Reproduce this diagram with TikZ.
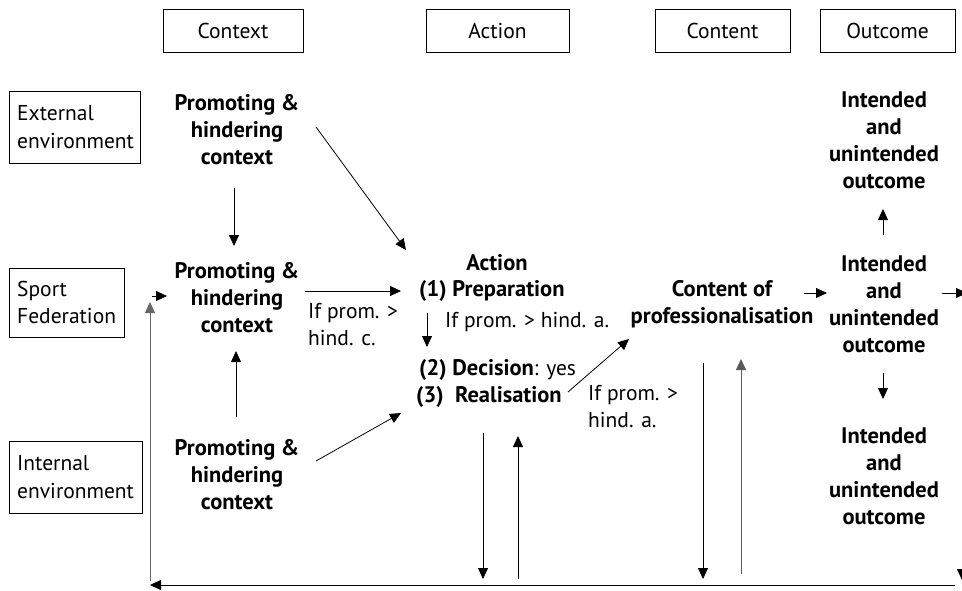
\documentclass[tikz,border=0pt]{standalone}
\usepackage{fontspec}
\setmainfont{PT Sans}
\usetikzlibrary{arrows.meta}
\begin{document}
\begin{tikzpicture}[x=1pt,y=-1pt,
  hdr/.style={draw,line width=0.9pt,minimum width=140pt,minimum height=43pt,inner sep=0pt,font=\fontsize{21.5}{26}\selectfont},
  rt/.style={align=left,inner sep=0pt,font=\fontsize{21.5}{27.5}\selectfont},
  bt/.style={align=center,inner sep=0pt,font=\fontsize{22.5}{27}\selectfont\bfseries},
  arr/.style={-{Triangle[length=11pt,width=10pt]},line width=0.8pt},
  garr/.style={arr,draw=black!60,line width=1pt}]
\useasboundingbox (0,0) rectangle (962,590);
% header boxes
\node[hdr] (hctx) at (233,30.5) {Context};
\node[hdr,minimum width=143pt] (hact) at (497.5,30.5) {Action};
\node[hdr,minimum width=135pt] (hcon) at (722.5,31) {Content};
\node[hdr,minimum width=135pt] (hout) at (887.5,31) {Outcome};
% row boxes
\draw[line width=0.9pt] (9,91) rectangle (140,163);
\node[rt,anchor=west] (ext) at (17,127) {External\\environment};
\draw[line width=0.9pt] (9,268) rectangle (124,337);
\node[rt,anchor=west] (spf) at (17,302.5) {Sport\\Federation};
\draw[line width=0.9pt] (9,441) rectangle (142,513);
\node[rt,anchor=west] (int) at (17,477) {Internal\\environment};
% context column
\node[bt] (c1) at (237,130) {Promoting \&\\hindering\\context};
\node[bt] (c2) at (237,298) {Promoting \&\\hindering\\context};
\node[bt] (c3) at (237,475) {Promoting \&\\hindering\\context};
% action column
\node[bt] (a0) at (497,263) {Action};
\node[bt,anchor=west] (a1) at (419,291) {(1) Preparation};
\node[rt,anchor=west] (a1l) at (445,322) {If prom. > hind. a.};
\node[rt,anchor=west] (a2) at (419,370) {\textbf{\fontsize{22.5}{27}\selectfont(2) Decision}: yes};
\node[bt,anchor=west] (a3) at (416,397) {(3)\ \ Realisation};
\node[rt,anchor=west] (lc) at (308,324.5) {If prom. >\\hind. c.};
\node[rt,anchor=west] (la) at (588,406.5) {If prom. >\\hind. a.};
% content & outcome
\node[bt] (cont) at (722,304) {Content of\\professionalisation};
\node[bt] (o1) at (884,140) {Intended\\and\\unintended\\outcome};
\node[bt] (o2) at (884,304) {Intended\\and\\unintended\\outcome};
\node[bt] (o3) at (884,476) {Intended\\and\\unintended\\outcome};
% coordinates
\coordinate (p1) at (316,127); \coordinate (q1) at (406,250);
\coordinate (p2) at (234,188); \coordinate (q2) at (234,246);
\coordinate (p3) at (305,291); \coordinate (q3) at (401,291);
\coordinate (p4) at (236,417); \coordinate (q4) at (236,351);
\coordinate (p5) at (316,461); \coordinate (q5) at (401,413);
\coordinate (p6) at (427,313); \coordinate (q6) at (427,347);
\coordinate (p7) at (568,392); \coordinate (q7) at (629,339);
\coordinate (p8) at (804,293); \coordinate (q8) at (827,293);
\coordinate (p9) at (942,293); \coordinate (q9) at (967,293);
\coordinate (p10) at (883,235); \coordinate (q10) at (883,209);
\coordinate (p11) at (883,373); \coordinate (q11) at (883,399);
\coordinate (p12) at (483,433); \coordinate (q12) at (483,579);
\coordinate (p13) at (518,579); \coordinate (q13) at (518,436);
\coordinate (p14) at (703,363); \coordinate (q14) at (703,579);
\coordinate (p15) at (741,574); \coordinate (q15) at (741,359);
\coordinate (p16) at (955,585); \coordinate (q16) at (150,585);
\coordinate (p17) at (150,581); \coordinate (q17) at (150,302);
\coordinate (p18) at (152,296); \coordinate (q18) at (167,296);
\coordinate (p19) at (962,567); \coordinate (q19) at (962,580);
% connectors
\draw[arr] (p1) -- (q1);
\draw[arr] (p2) -- (q2);
\draw[arr] (p3) -- (q3);
\draw[arr] (p4) -- (q4);
\draw[arr] (p5) -- (q5);
\draw[arr] (p6) -- (q6);
\draw[arr] (p7) -- (q7);
\draw[arr] (p8) -- (q8);
\draw[arr] (p9) -- (q9);
\draw[arr] (p10) -- (q10);
\draw[arr] (p11) -- (q11);
\draw[arr] (p12) -- (q12);
\draw[arr] (p13) -- (q13);
\draw[arr] (p14) -- (q14);
\draw[arr,draw=black!65] (p15) -- (q15);
\draw[arr] (p16) -- (q16);
\draw[garr] (p17) -- (q17);
\draw[arr] (p18) -- (q18);
\draw[arr] (p19) -- (q19);
\end{tikzpicture}
\end{document}
